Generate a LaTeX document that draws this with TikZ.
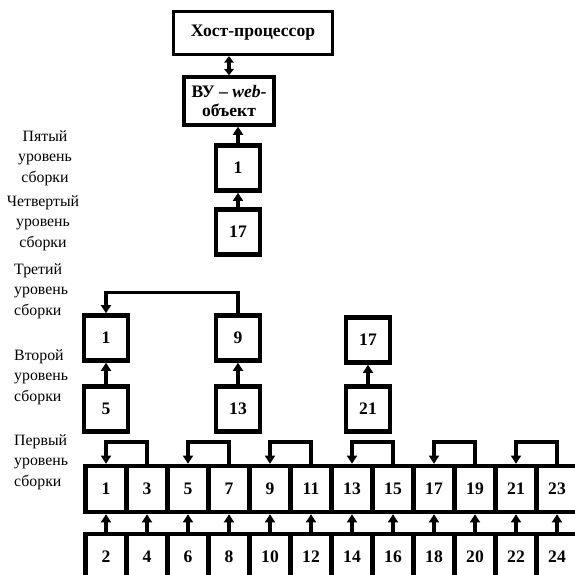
\documentclass[tikz,border=0pt]{standalone}
\usepackage{fontspec}
\setmainfont{Liberation Serif}
\usetikzlibrary{arrows.meta}

\begin{document}
\begin{tikzpicture}[x=0.03cm,y=-0.03cm,
    box/.style={draw,line width=3.8pt,inner sep=0pt,minimum width=1.32cm,minimum height=1.35cm,font=\fontsize{15}{17}\selectfont\bfseries},
    cell/.style={box,minimum width=1.23cm,minimum height=1.38cm},
    bigbox/.style={box,line width=2.8pt,align=center},
    arr/.style={line width=3pt,-{Triangle[length=7pt,width=8.5pt]}},
    darr/.style={line width=3pt,{Triangle[length=5.5pt,width=8pt]}-{Triangle[length=5.5pt,width=8pt]}},
    lvl/.style={inner sep=0pt,font=\fontsize{13.5}{17.4}\selectfont}]
  \useasboundingbox (0,0) rectangle (575,575);
  \clip (0,0) rectangle (575,575);

  % levels
  \node[lvl,align=center] (lab5) at (45,158) {Пятый\\уровень\\сборки};
  \node[lvl,align=center] (lab4) at (43,223) {Четвертый\\уровень\\сборки};
  \node[lvl,align=left,anchor=west] (lab3) at (14,291) {Третий\\уровень\\сборки};
  \node[lvl,align=left,anchor=west] (lab2) at (14,377) {Второй\\уровень\\сборки};
  \node[lvl,align=left,anchor=west] (lab1) at (14,462) {Первый\\уровень\\сборки};

  \node[bigbox,minimum width=4.77cm,minimum height=1.29cm] (host) at (253,33) {Хост-процессор};
  \node[bigbox,minimum width=2.7cm,minimum height=1.44cm] (vu) at (229,101) {ВУ -- \textit{web}-\\объект};
  \node[box] (p1) at (238,168) {1};
  \node[box] (q17) at (238,232) {17};

  \node[box] (t1) at (106,338) {1};
  \node[box] (t9) at (238,338) {9};
  \node[box] (t17) at (368,340) {17};
  \node[box] (s5) at (106,409) {5};
  \node[box] (s13) at (238,409) {13};
  \node[box] (s21) at (368,409) {21};

  \draw[darr] (vu.north) -- (vu.north |- host.south);
  \draw[arr] (p1.north) -- (p1.north |- vu.south);
  \draw[arr] (q17) -- (p1);
  \draw[arr] (t9.north) -- ++(0,-21) -| (t1.north);
  \draw[arr] (s5) -- (t1);
  \draw[arr] (s13) -- (t9);
  \draw[arr] (s21) -- (t17);

  % first level
  \foreach \i in {0,...,11}{
    \pgfmathtruncatemacro{\nodd}{2*\i+1}
    \pgfmathtruncatemacro{\neven}{2*\i+2}
    \node[cell] (r\nodd) at (106+41*\i,489) {\nodd};
    \node[cell] (b\neven) at (106+41*\i,557) {\neven};
    \draw[arr] (b\neven.north) -- (r\nodd.south);
  }
  \foreach \k in {1,5,9,13,17,21}{
    \pgfmathtruncatemacro{\kk}{\k+2}
    \draw[arr] (r\kk.north) -- ++(0,-22) -| (r\k.north);
  }
\end{tikzpicture}
\end{document}
